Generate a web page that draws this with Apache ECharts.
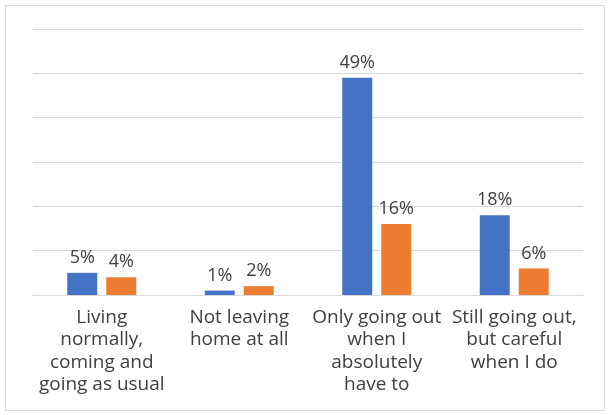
<!DOCTYPE html>
<html>
<head>
<meta charset="utf-8">
<script src="https://cdn.jsdelivr.net/npm/echarts@6/dist/echarts.min.js"></script>
<style>
html,body{margin:0;padding:0;background:#fff;}
#c{width:610px;height:415px;}
</style>
</head>
<body>
<div id="c"></div>
<script>
const categories = [
  "Living\nnormally,\ncoming and\ngoing as usual",
  "Not leaving\nhome at all",
  "Only going out\nwhen I\nabsolutely\nhave to",
  "Still going out,\nbut careful\nwhen I do"
];
const seriesA = [5, 1, 49, 18];
const seriesB = [4, 2, 16, 6];
const yMin = 0, yMax = 60, yStep = 10;

const chart = echarts.init(document.getElementById('c'), null, {renderer: 'canvas'});
const labelStyle = {
  show: true, position: 'top', distance: 6,
  formatter: p => p.value + '%',
  color: '#404040', fontFamily: 'Open Sans', fontSize: 18
};
chart.setOption({
  animation: false,
  graphic: [{
    type: 'rect', shape: {x: 5.5, y: 5.5, width: 599, height: 405},
    style: {fill: 'none', stroke: '#d9d9d9', lineWidth: 1}, silent: true
  }],
  grid: {left: 33, right: 27, top: 29, bottom: 120},
  xAxis: {
    type: 'category', data: categories,
    axisTick: {show: false},
    axisLine: {lineStyle: {color: '#d9d9d9'}},
    axisLabel: {color: '#404040', fontFamily: 'Open Sans', fontSize: 19, lineHeight: 22.5, margin: 11, interval: 0}
  },
  yAxis: {
    type: 'value', min: yMin, max: yMax, interval: yStep,
    axisLabel: {show: false}, axisLine: {show: false}, axisTick: {show: false},
    splitLine: {lineStyle: {color: '#d9d9d9'}}
  },
  series: [
    {type: 'bar', data: seriesA, barWidth: 30, barGap: '30%', itemStyle: {color: '#4472C4'}, label: labelStyle},
    {type: 'bar', data: seriesB, barWidth: 30, itemStyle: {color: '#ED7D31'}, label: labelStyle}
  ]
});
</script>
</body>
</html>
